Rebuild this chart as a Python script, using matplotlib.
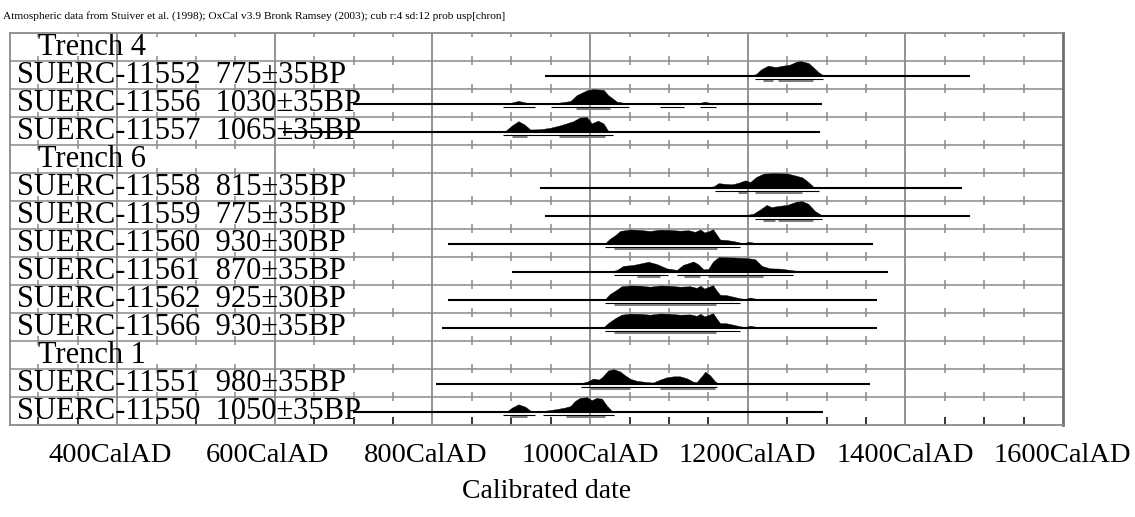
import matplotlib
matplotlib.use("Agg")
import matplotlib.pyplot as plt
from matplotlib.transforms import ScaledTranslation

plt.rcParams['font.family'] = ['Liberation Serif', 'DejaVu Serif']

# rows, top to bottom
row_labels = ["Trench 4",
              "SUERC-11552  775\u00b135BP", "SUERC-11556  1030\u00b135BP", "SUERC-11557  1065\u00b135BP",
              "Trench 6",
              "SUERC-11558  815\u00b135BP", "SUERC-11559  775\u00b135BP", "SUERC-11560  930\u00b130BP",
              "SUERC-11561  870\u00b135BP", "SUERC-11562  925\u00b130BP", "SUERC-11566  930\u00b135BP",
              "Trench 1",
              "SUERC-11551  980\u00b135BP", "SUERC-11550  1050\u00b135BP"]
row_is_group = [True, False, False, False, True, False, False, False, False, False, False, True, False, False]

# extent of the baseline for each sample (cal AD)
line_11552 = (943, 1482)
line_11556 = (699, 1294)
line_11557 = (610, 1292)
line_11558 = (937, 1472)
line_11559 = (943, 1482)
line_11560 = (820, 1359)
line_11561 = (901, 1378)
line_11562 = (820, 1364)
line_11566 = (812, 1364)
line_11551 = (805, 1355)
line_11550 = (699, 1296)

# probability curves (relative height)
yr_11552 = [1150, 1180, 1199, 1205, 1211, 1217, 1226, 1235, 1243, 1254, 1262, 1268, 1277, 1283, 1290, 1296, 1302]
h_11552 = [0, 0.02, 0.05, 0.03, 0.15, 0.45, 0.7, 0.6, 0.68, 0.78, 0.97, 1.0, 0.88, 0.6, 0.25, 0.04, 0]
yr_11556 = [885, 895, 909, 924, 935, 951, 962, 975, 983, 996, 1004, 1017, 1023, 1034, 1047, 1059, 1070,
            1090, 1105, 1120, 1135, 1146, 1156, 1165]
h_11556 = [0, 0.03, 0.21, 0.03, 0.03, 0.05, 0.1, 0.2, 0.6, 0.93, 1.0, 0.96, 0.6, 0.16, 0.05, 0.02, 0.01,
           0.02, 0.05, 0.02, 0.03, 0.16, 0.02, 0]
yr_11557 = [880, 892, 901, 909, 917, 924, 937, 949, 962, 970, 979, 987, 996, 1002, 1010, 1017, 1023, 1030, 1040]
h_11557 = [0, 0.05, 0.45, 0.73, 0.5, 0.17, 0.19, 0.28, 0.45, 0.58, 0.74, 0.98, 1.0, 0.58, 0.77, 0.58, 0.07, 0.02, 0]
yr_11558 = [1060, 1085, 1110, 1131, 1150, 1157, 1163, 1171, 1180, 1188, 1197, 1203, 1211, 1220, 1232,
            1250, 1260, 1269, 1277, 1283, 1290]
h_11558 = [0, 0.02, 0.01, 0.03, 0.05, 0.12, 0.33, 0.28, 0.25, 0.35, 0.52, 0.4, 0.75, 0.97, 1.0,
           0.98, 0.85, 0.72, 0.4, 0.1, 0]
yr_11559 = [1185, 1194, 1207, 1216, 1224, 1230, 1239, 1250, 1262, 1269, 1277, 1285, 1294, 1300]
h_11559 = [0, 0.03, 0.15, 0.45, 0.75, 0.6, 0.68, 0.75, 0.97, 1.0, 0.82, 0.35, 0.05, 0]
yr_11560 = [1010, 1019, 1025, 1032, 1038, 1051, 1063, 1076, 1089, 1101, 1114, 1125, 1133, 1140, 1145,
            1150, 1156, 1161, 1165, 1173, 1182, 1190, 1195, 1201, 1207, 1216]
h_11560 = [0, 0.05, 0.35, 0.6, 0.88, 0.98, 0.95, 0.88, 0.97, 0.95, 0.9, 0.93, 0.82, 0.98, 0.78,
           0.85, 1.0, 0.6, 0.3, 0.27, 0.2, 0.1, 0.05, 0.15, 0.1, 0]
yr_11561 = [1015, 1025, 1034, 1042, 1055, 1074, 1085, 1097, 1110, 1118, 1131, 1137, 1144, 1150, 1156,
            1163, 1182, 1199, 1209, 1218, 1228, 1241, 1258, 1275, 1285]
h_11561 = [0, 0.02, 0.14, 0.41, 0.48, 0.69, 0.53, 0.25, 0.14, 0.48, 0.71, 0.53, 0.18, 0.21, 0.71,
           1.0, 0.98, 0.94, 0.87, 0.41, 0.25, 0.23, 0.11, 0.02, 0]
yr_11562 = [1010, 1019, 1025, 1034, 1040, 1051, 1063, 1076, 1089, 1101, 1114, 1127, 1135, 1140, 1145,
            1150, 1156, 1161, 1165, 1173, 1182, 1190, 1197, 1203, 1209, 1218]
h_11562 = [0, 0.05, 0.4, 0.7, 0.93, 0.98, 0.97, 0.9, 0.98, 0.96, 0.9, 0.93, 0.82, 0.97, 0.77,
           0.88, 1.0, 0.6, 0.35, 0.33, 0.22, 0.12, 0.07, 0.17, 0.1, 0]
yr_11566 = [1008, 1017, 1024, 1033, 1040, 1051, 1063, 1076, 1089, 1101, 1114, 1127, 1135, 1140, 1145,
            1150, 1156, 1161, 1165, 1173, 1182, 1190, 1197, 1203, 1209, 1218]
h_11566 = [0, 0.05, 0.38, 0.7, 0.9, 0.97, 0.96, 0.9, 0.98, 0.96, 0.9, 0.92, 0.82, 0.96, 0.78,
           0.88, 1.0, 0.6, 0.33, 0.32, 0.22, 0.12, 0.06, 0.16, 0.1, 0]
yr_11551 = [975, 987, 996, 1004, 1011, 1015, 1023, 1030, 1038, 1044, 1051, 1059, 1072, 1080, 1089, 1097,
            1106, 1114, 1123, 1131, 1135, 1142, 1146, 1152, 1159, 1165]
h_11551 = [0, 0.05, 0.15, 0.37, 0.3, 0.45, 0.92, 1.0, 0.85, 0.6, 0.35, 0.22, 0.13, 0.1, 0.3, 0.45,
           0.52, 0.52, 0.38, 0.15, 0.12, 0.55, 0.83, 0.6, 0.15, 0]
yr_11550 = [885, 894, 901, 909, 918, 924, 932, 945, 958, 968, 975, 981, 987, 996, 1002, 1008, 1015,
            1021, 1027, 1034, 1042]
h_11550 = [0, 0.03, 0.3, 0.52, 0.35, 0.1, 0.05, 0.1, 0.2, 0.3, 0.4, 0.75, 0.95, 1.0, 0.8, 0.95, 0.9,
           0.45, 0.1, 0.03, 0]

# 95.4% and 68.2% ranges
r95_11552 = [(1209, 1295)]
r68_11552 = [(1220, 1232), (1239, 1283)]
r95_11556 = [(890, 930), (950, 1049), (1089, 1119), (1140, 1160)]
r68_11556 = [(982, 1025)]
r95_11557 = [(890, 1029)]
r68_11557 = [(901, 920), (960, 1019)]
r95_11558 = [(1159, 1290)]
r68_11558 = [(1188, 1199), (1209, 1269)]
r95_11559 = [(1209, 1294)]
r68_11559 = [(1220, 1235), (1239, 1283)]
r95_11560 = [(1019, 1190)]
r68_11560 = [(1030, 1161)]
r95_11561 = [(1030, 1099), (1110, 1258)]
r68_11561 = [(1059, 1089), (1119, 1140), (1150, 1219)]
r95_11562 = [(1019, 1190)]
r68_11562 = [(1030, 1160)]
r95_11566 = [(1019, 1190)]
r68_11566 = [(1030, 1160)]
r95_11551 = [(989, 1161)]
r68_11551 = [(1000, 1051), (1089, 1159)]
r95_11550 = [(890, 930), (940, 1030)]
r68_11550 = [(899, 920), (970, 1019)]

samples = {1: (line_11552, yr_11552, h_11552, r95_11552, r68_11552),
           2: (line_11556, yr_11556, h_11556, r95_11556, r68_11556),
           3: (line_11557, yr_11557, h_11557, r95_11557, r68_11557),
           5: (line_11558, yr_11558, h_11558, r95_11558, r68_11558),
           6: (line_11559, yr_11559, h_11559, r95_11559, r68_11559),
           7: (line_11560, yr_11560, h_11560, r95_11560, r68_11560),
           8: (line_11561, yr_11561, h_11561, r95_11561, r68_11561),
           9: (line_11562, yr_11562, h_11562, r95_11562, r68_11562),
           10: (line_11566, yr_11566, h_11566, r95_11566, r68_11566),
           12: (line_11551, yr_11551, h_11551, r95_11551, r68_11551),
           13: (line_11550, yr_11550, h_11550, r95_11550, r68_11550)}

x_ticks = [400, 600, 800, 1000, 1200, 1400, 1600]
tick_labels = ["%dCalAD" % t for t in x_ticks]
x_min, x_max = 264, 1600
title = "Atmospheric data from Stuiver et al. (1998); OxCal v3.9 Bronk Ramsey (2003); cub r:4 sd:12 prob usp[chron]"

nrows = len(row_labels)
grid_col = '#8a8a8a'

fig = plt.figure(figsize=(11.35, 5.17), dpi=100)
ax = fig.add_axes([10 / 1135, 1 - 424.5 / 517, 1053 / 1135, 392 / 517])
ax.set_xlim(x_min, x_max)
ax.set_ylim(nrows, 0)
ax.set_xticks([])
ax.set_yticks([])
for s in ax.spines.values():
    s.set_color(grid_col)
    s.set_linewidth(1.3)
ax.spines['right'].set_color('#707070')
ax.spines['right'].set_linewidth(2)

# grid
for k in range(1, nrows):
    ax.axhline(k, color=grid_col, lw=1.1, zorder=1)
for t in range(400, 1600, 200):
    ax.axvline(t, color=grid_col, lw=1.3, zorder=1)
minor = [t for t in range(300, 1600, 50) if t % 200 != 0]
for k in range(0, nrows + 1):
    lo = max(0, k - 0.17)
    hi = min(nrows, k + 0.17)
    if k == nrows:
        ax.vlines(minor, nrows - 0.28, nrows, color='black', lw=1.1, zorder=1)
    else:
        ax.vlines(minor, lo, hi, color=grid_col, lw=1.1, zorder=1)

# labels
for i, lab in enumerate(row_labels):
    xo = 0.0266 if row_is_group[i] else 0.0065
    ax.text(xo, i + 0.82, lab, transform=ax.get_yaxis_transform(), fontsize=22,
            va='baseline', ha='left', zorder=2)

# distributions
base_off = 0.555
hmax = 0.53
for i, (ext, yrs, hs, r95, r68) in samples.items():
    b = i + base_off
    ax.plot(ext, [b, b], color='black', lw=1.5, zorder=3, solid_capstyle='butt')
    ax.fill_between(yrs, b, [b - hmax * v for v in hs], color='black', lw=0.3, zorder=3)
    for a, c in r68:
        ax.plot([a, c], [b + 0.15, b + 0.15], color='#808080', lw=2.2, zorder=3, solid_capstyle='butt')
    for a, c in r95:
        ax.plot([a, c], [b + 0.105, b + 0.105], color='black', lw=0.8, zorder=4, solid_capstyle='butt')

# x tick labels, left aligned a fixed distance before each tick
for t, lab in zip(x_ticks, tick_labels):
    off = ScaledTranslation(-0.69, -0.372, fig.dpi_scale_trans)
    ax.text(t, 0, lab, transform=ax.get_xaxis_transform() + off, fontsize=20.5,
            ha='left', va='baseline', clip_on=False)

fig.text(547 / 1135, 1 - 498 / 517, "Calibrated date", fontsize=20, ha='center', va='baseline')
fig.text(3 / 1135, 1 - 19 / 517, title, fontsize=8.2, ha='left', va='baseline')

fig.savefig("out.png", dpi=100)
